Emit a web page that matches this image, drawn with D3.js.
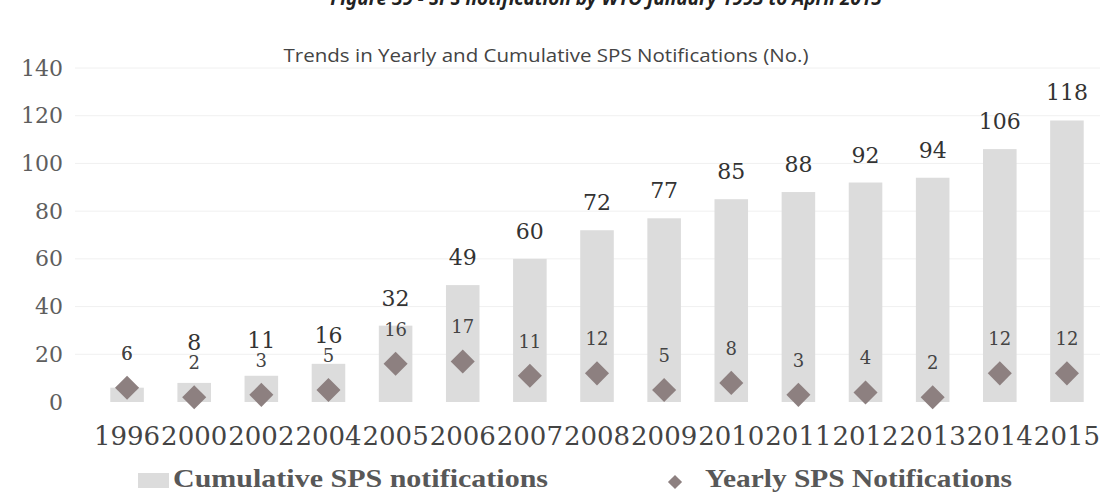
<!DOCTYPE html>
<html>
<head>
<meta charset="utf-8">
<script src="https://cdn.jsdelivr.net/npm/d3@7"></script>
<style>
  body { margin: 0; background: #fff; }
  svg { display: block; }
</style>
</head>
<body>
<svg id="chart" width="1104" height="499"></svg>
<script>
// SPS notifications per year and running total
const years = ["1996", "2000", "2002", "2004", "2005", "2006", "2007", "2008",
               "2009", "2010", "2011", "2012", "2013", "2014", "2015"];
const cumulative = [6, 8, 11, 16, 32, 49, 60, 72, 77, 85, 88, 92, 94, 106, 118];
const yearly = [6, 2, 3, 5, 16, 17, 11, 12, 5, 8, 3, 4, 2, 12, 12];
const yTicks = [0, 20, 40, 60, 80, 100, 120, 140];

const figureTitle = "Figure 39 - SPS notification by WTO January 1995 to April 2015";
const chartTitle = "Trends in Yearly and Cumulative SPS Notifications (No.)";
const legendLabels = ["Cumulative SPS  notifications", "Yearly SPS Notifications"];

const rows = years.map((yr, i) => ({ year: yr, cum: cumulative[i], yr1: yearly[i] }));

const svg = d3.select("#chart");

const x = d3.scaleBand()
  .domain(years)
  .range([93.5, 1100.5])
  .paddingInner(0.5)
  .paddingOuter(0.25);

const y = d3.scaleLinear().domain([0, 140]).range([402, 68]);

const serif = "'DejaVu Serif', serif";
const legendFont = "'Liberation Serif', serif";
const barColor = "#dcdcdc";
const markColor = "#8d8080";

// figure caption, partly above the page edge
svg.append("text")
  .attr("x", 606).attr("y", 5)
  .attr("text-anchor", "middle")
  .attr("font-family", "'Noto Sans', sans-serif")
  .attr("font-style", "italic")
  .attr("font-weight", "bold")
  .attr("font-size", 19)
  .attr("fill", "#222")
  .text(figureTitle);

// chart title
svg.append("text")
  .attr("x", 546).attr("y", 62)
  .attr("text-anchor", "middle")
  .attr("font-family", "'Open Sans', sans-serif")
  .attr("font-size", 19)
  .attr("fill", "#444")
  .attr("textLength", 525)
  .attr("lengthAdjust", "spacingAndGlyphs")
  .text(chartTitle);

// horizontal gridlines
svg.append("g")
  .selectAll("line")
  .data(yTicks.slice(1))
  .join("line")
  .attr("x1", 75).attr("x2", 1100)
  .attr("y1", d => y(d)).attr("y2", d => y(d))
  .attr("stroke", "#f0f0f0")
  .attr("stroke-width", 1);

// y axis labels
const yAxis = svg.append("g")
  .attr("transform", "translate(68,0)")
  .call(d3.axisLeft(y).tickValues(yTicks).tickSize(0).tickPadding(5));
yAxis.select(".domain").remove();
yAxis.selectAll("text")
  .attr("font-family", serif)
  .attr("font-size", 22)
  .attr("fill", "#5e5e5e");

// cumulative bars
svg.append("g")
  .selectAll("rect")
  .data(rows)
  .join("rect")
  .attr("x", d => x(d.year))
  .attr("width", x.bandwidth())
  .attr("y", d => y(d.cum))
  .attr("height", d => y(0) - y(d.cum))
  .attr("fill", barColor);

// yearly markers
const diamond = d3.symbol(d3.symbolSquare, 290);
svg.append("g")
  .selectAll("path")
  .data(rows)
  .join("path")
  .attr("d", diamond)
  .attr("transform", d => `translate(${x(d.year) + x.bandwidth() / 2},${y(d.yr1)}) rotate(45)`)
  .attr("fill", markColor);

// value labels: yearly above each marker, cumulative above each bar
const yearlyLabelY = d => y(d.yr1) - 28;
const sameValue = d => d.cum === d.yr1;
const cumLabelY = d => sameValue(d) ? yearlyLabelY(d) : Math.min(y(d.cum) - 20, yearlyLabelY(d) - 19);

svg.append("g")
  .selectAll("text")
  .data(rows)
  .join("text")
  .attr("x", d => x(d.year) + x.bandwidth() / 2)
  .attr("y", yearlyLabelY)
  .attr("text-anchor", "middle")
  .attr("font-family", serif)
  .attr("font-size", 18)
  .attr("fill", "#444")
  .text(d => d.yr1);

svg.append("g")
  .selectAll("text")
  .data(rows)
  .join("text")
  .attr("x", d => x(d.year) + x.bandwidth() / 2)
  .attr("y", cumLabelY)
  .attr("text-anchor", "middle")
  .attr("font-family", serif)
  .attr("font-size", d => sameValue(d) ? 18 : 22)
  .attr("fill", d => sameValue(d) ? "#444" : "#333")
  .text(d => d.cum);

// x axis labels
const xAxis = svg.append("g")
  .attr("transform", "translate(0,427)")
  .call(d3.axisBottom(x).tickSize(0).tickPadding(0));
xAxis.select(".domain").remove();
xAxis.selectAll("text")
  .attr("dy", "0.71em")
  .attr("font-family", serif)
  .attr("font-size", 26)
  .attr("fill", "#444");

// legend
const legend = svg.append("g");
legend.append("rect")
  .attr("x", 138).attr("y", 473).attr("width", 31).attr("height", 15)
  .attr("fill", barColor);
legend.append("text")
  .attr("x", 173).attr("y", 487)
  .attr("font-family", legendFont)
  .attr("font-weight", "bold")
  .attr("font-size", 26)
  .attr("fill", "#585858")
  .attr("textLength", 375)
  .attr("lengthAdjust", "spacingAndGlyphs")
  .text(legendLabels[0]);
legend.append("path")
  .attr("d", d3.symbol(d3.symbolSquare, 100))
  .attr("transform", "translate(675,482) rotate(45)")
  .attr("fill", markColor);
legend.append("text")
  .attr("x", 705).attr("y", 487)
  .attr("font-family", legendFont)
  .attr("font-weight", "bold")
  .attr("font-size", 26)
  .attr("fill", "#585858")
  .attr("textLength", 307)
  .attr("lengthAdjust", "spacingAndGlyphs")
  .text(legendLabels[1]);
</script>
</body>
</html>
